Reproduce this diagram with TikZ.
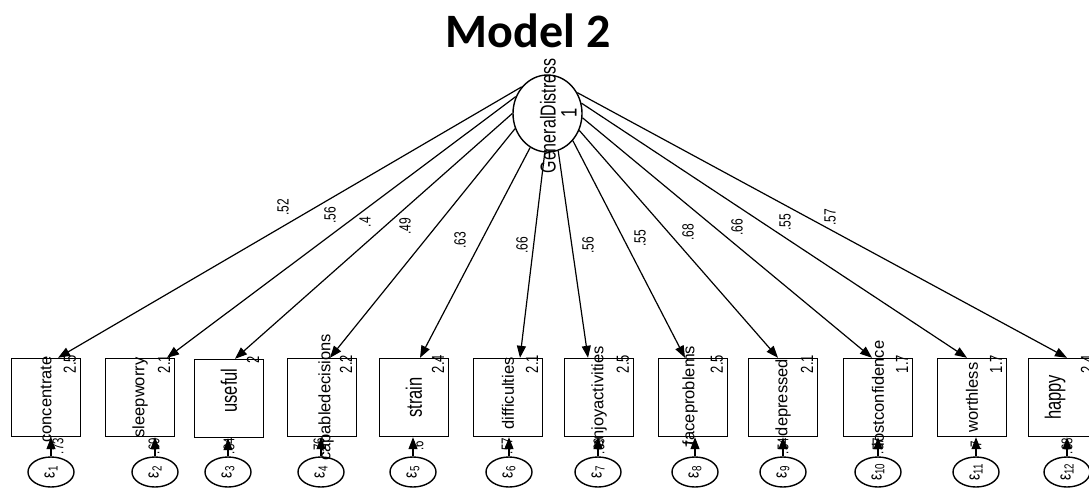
\documentclass[tikz,border=0pt]{standalone}
\usepackage{fontspec}
\setmainfont{Liberation Sans}
\newfontfamily\titlefont{Carlito}
\usetikzlibrary{arrows.meta}
\usetikzlibrary{shapes.geometric}
\newcommand\tall[1]{\scalebox{1}[1.35]{#1}}
\newcommand\eps[1]{\tall{ε\textsubscript{#1}}}

\begin{document}
\begin{tikzpicture}[x=1pt,y=-1pt,
  obs/.style={draw,line width=1.4pt,minimum width=69pt,minimum height=78pt,inner sep=0pt},
  lat/.style={draw,ellipse,line width=1.4pt,minimum width=69pt,minimum height=77pt,inner sep=0pt},
  err/.style={draw,ellipse,line width=1.4pt,minimum width=46pt,minimum height=30pt,inner sep=0pt},
  load/.style={line width=1.2pt,-{Triangle[length=12pt,width=9pt]}},
  vname/.style={rotate=90,inner sep=0pt,font=\fontsize{16.5}{16.5}\selectfont},
  vval/.style={rotate=90,inner sep=0pt,anchor=south east,font=\fontsize{13}{13}\selectfont},
  vcoef/.style={rotate=90,inner sep=0pt,font=\fontsize{12}{12}\selectfont},
  verr/.style={rotate=90,inner sep=0pt,font=\fontsize{11.5}{11.5}\selectfont},
  veps/.style={rotate=90,inner sep=0pt,font=\fontsize{14}{14}\selectfont}]
\useasboundingbox (0,0) rectangle (1089,491);
% title
\node [anchor=base,font=\titlefont\bfseries\fontsize{48}{48}\selectfont] (title) at (528,47) {Model 2};
% latent
\node [lat] (gd) at (547.5,113.5) {};
\node [vname,font=\fontsize{16}{16}\selectfont] (gdname) at (548,116) {\tall{GeneralDistress}};
\node [vname] (gdvar) at (569,113) {\tall{1}};
% observed
\node [obs] (conc) at (46,397.5) {};
\node [obs] (sleep) at (140,397.5) {};
\node [obs] (useful) at (229,398.5) {};
\node [obs] (capable) at (322,397.5) {};
\node [obs] (strain) at (414,397.5) {};
\node [obs] (diffic) at (508,397.5) {};
\node [obs] (enjoy) at (599,397.5) {};
\node [obs] (face) at (693,397.5) {};
\node [obs] (depr) at (783,397.5) {};
\node [obs] (lost) at (878,397.5) {};
\node [obs] (worth) at (972,397.5) {};
\node [obs] (happy) at (1063,397.5) {};
\node [vname] at ([yshift=-2pt]conc) {concentrate};
\node [vname] at (sleep) {sleepworry};
\node [vname] at ([yshift=8pt]useful) {\tall{useful}};
\node [vname] at ([xshift=4pt]capable) {capabledecisions};
\node [vname] at (strain) {\tall{strain}};
\node [vname] at ([yshift=4pt]diffic) {difficulties};
\node [vname] at (enjoy) {enjoyactivities};
\node [vname] at ([xshift=-3pt,yshift=2pt]face) {faceproblems};
\node [vname] at (depr) {depressed};
\node [vname] at ([yshift=4pt]lost) {lostconfidence};
\node [vname] at (worth) {worthless};
\node [vname] at ([xshift=-8pt]happy) {\tall{happy}};
\node [vval] at ([shift={(-5pt,3pt)}]conc.north east) {\tall{2.5}};
\node [vval] at ([shift={(-5pt,3pt)}]sleep.north east) {\tall{2.1}};
\node [vval] at ([shift={(-5pt,3pt)}]useful.north east) {\tall{2}};
\node [vval] at ([shift={(-5pt,3pt)}]capable.north east) {\tall{2.2}};
\node [vval] at ([shift={(-5pt,3pt)}]strain.north east) {\tall{2.4}};
\node [vval] at ([shift={(-5pt,3pt)}]diffic.north east) {\tall{2.1}};
\node [vval] at ([shift={(-5pt,3pt)}]enjoy.north east) {\tall{2.5}};
\node [vval] at ([shift={(-5pt,3pt)}]face.north east) {\tall{2.5}};
\node [vval] at ([shift={(-5pt,3pt)}]depr.north east) {\tall{2.1}};
\node [vval] at ([shift={(-5pt,3pt)}]lost.north east) {\tall{1.7}};
\node [vval] at ([shift={(-5pt,3pt)}]worth.north east) {\tall{1.7}};
\node [vval] at ([shift={(-5pt,3pt)}]happy.north east) {\tall{2.4}};
% loadings
\draw [load] (gd.134) -- ([xshift=12pt]conc.north);
\draw [load] (gd.152) -- ([xshift=27pt]sleep.north);
\draw [load] (gd.180) -- ([xshift=6pt]useful.north);
\draw [load] (gd.205) -- ([xshift=8pt]capable.north);
\draw [load] (gd.243) -- ([xshift=6pt]strain.north);
\draw [load] (gd.266) -- ([xshift=12pt]diffic.north);
\draw [load] (gd.286) -- ([xshift=-11pt]enjoy.north);
\draw [load] (gd.313) -- ([xshift=-8pt]face.north);
\draw [load] (gd.332) -- ([xshift=-5pt]depr.north);
\draw [load] (gd.353) -- ([xshift=-6pt]lost.north);
\draw [load] (gd.17) -- ([xshift=-5pt]worth.north);
\draw [load] (gd.35) -- ([xshift=4pt]happy.north);
\node [vcoef] at (283,207) {\tall{.52}};
\node [vcoef] at (330,215) {\tall{.56}};
\node [vcoef] at (365,222) {\tall{.4}};
\node [vcoef] at (405,226) {\tall{.49}};
\node [vcoef] at (460,240) {\tall{.63}};
\node [vcoef] at (522,245) {\tall{.66}};
\node [vcoef] at (588,245) {\tall{.56}};
\node [vcoef] at (640,238) {\tall{.55}};
\node [vcoef] at (688,232) {\tall{.68}};
\node [vcoef] at (737,227) {\tall{.66}};
\node [vcoef] at (785,222) {\tall{.55}};
\node [vcoef] at (830,217) {\tall{.57}};
% errors
\node [err] (e1) at (51,472) {};
\node [err] (e2) at (155,472) {};
\node [err] (e3) at (228,472) {};
\node [err] (e4) at (321,472) {};
\node [err] (e5) at (413,472) {};
\node [err] (e6) at (509,472) {};
\node [err] (e7) at (598,472) {};
\node [err] (e8) at (695,472) {};
\node [err] (e9) at (783,472) {};
\node [err] (e10) at (878,472) {};
\node [err] (e11) at (976,472) {};
\node [err] (e12) at (1067,472) {};
\node [veps] at (e1) {\eps{1}};
\node [veps] at (e2) {\eps{2}};
\node [veps] at (e3) {\eps{3}};
\node [veps] at (e4) {\eps{4}};
\node [veps] at (e5) {\eps{5}};
\node [veps] at (e6) {\eps{6}};
\node [veps] at (e7) {\eps{7}};
\node [veps] at (e8) {\eps{8}};
\node [veps] at (e9) {\eps{9}};
\node [veps] at (e10) {\eps{10}};
\node [veps] at (e11) {\eps{11}};
\node [veps] at (e12) {\eps{12}};
\draw [load] (e1) -- (e1 |- conc.south);
\draw [load] (e2) -- (e2 |- sleep.south);
\draw [load] (e3) -- (e3 |- useful.south);
\draw [load] (e4) -- (e4 |- capable.south);
\draw [load] (e5) -- (e5 |- strain.south);
\draw [load] (e6) -- (e6 |- diffic.south);
\draw [load] (e7) -- (e7 |- enjoy.south);
\draw [load] (e8) -- (e8 |- face.south);
\draw [load] (e9) -- (e9 |- depr.south);
\draw [load] (e10) -- (e10 |- lost.south);
\draw [load] (e11) -- (e11 |- worth.south);
\draw [load] (e12) -- (e12 |- happy.south);
\node [verr] at (58,446) {\tall{.73}};
\node [verr] at (154,446) {\tall{.69}};
\node [verr] at (229,446) {\tall{.84}};
\node [verr] at (319,446) {\tall{.76}};
\node [verr] at (418,446) {\tall{.6}};
\node [verr] at (507,446) {\tall{.57}};
\node [verr] at (599,446) {\tall{.69}};
\node [verr] at (691,446) {\tall{.7}};
\node [verr] at (783,446) {\tall{.54}};
\node [verr] at (878,446) {\tall{.57}};
\node [verr] at (976,446) {\tall{.7}};
\node [verr] at (1067,446) {\tall{.68}};
\end{tikzpicture}
\end{document}
